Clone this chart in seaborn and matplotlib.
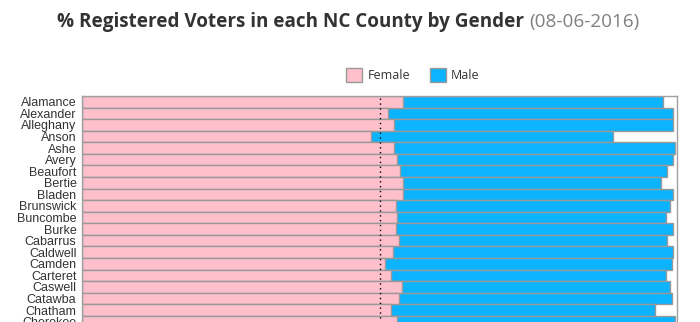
import matplotlib
matplotlib.use("Agg")
import matplotlib.pyplot as plt
import seaborn as sns
import pandas as pd
from matplotlib.patches import Patch

counties = ["Alamance", "Alexander", "Alleghany", "Anson", "Ashe", "Avery", "Beaufort",
            "Bertie", "Bladen", "Brunswick", "Buncombe", "Burke", "Cabarrus", "Caldwell",
            "Camden", "Carteret", "Caswell", "Catawba", "Chatham", "Cherokee"]
female_pct = [54.0, 51.5, 52.4, 48.5, 52.5, 52.9, 53.5, 54.0, 53.9, 52.7,
              53.0, 52.7, 53.2, 52.2, 51.0, 52.0, 53.7, 53.2, 52.0, 52.9]
male_pct = [43.7, 47.8, 46.9, 40.7, 47.1, 46.4, 44.8, 43.3, 45.5, 46.1,
            45.1, 46.7, 45.1, 47.2, 48.1, 46.1, 45.1, 45.9, 44.3, 46.7]

df = pd.DataFrame({"county": counties, "female": female_pct, "male": male_pct})
df["total"] = df["female"] + df["male"]

sns.set_style("white")
W, H = 700, 322
fig = plt.figure(figsize=(7, 3.22), dpi=100)

row_h = 11.57
left_px, right_px, top_px = 82, 677, 96
n = len(counties)
ax_h = n * row_h
ax = fig.add_axes([left_px / W, (H - top_px - ax_h) / H, (right_px - left_px) / W, ax_h / H])

male_c = "#0cb4ff"
female_c = "#ffc0cb"
edge = "#999999"

sns.barplot(data=df, y="county", x="total", orient="h", color=male_c, width=1.0,
            edgecolor=edge, linewidth=1.0, saturation=1, ax=ax)
sns.barplot(data=df, y="county", x="female", orient="h", color=female_c, width=1.0,
            edgecolor=edge, linewidth=1.0, saturation=1, ax=ax)

ax.axvline(50, color="black", linestyle=(0, (1, 2.5)), linewidth=1.0, zorder=5)
ax.set_xlim(0, 100)
ax.set_ylim(n - 0.5, -0.5)
ax.set_xlabel("")
ax.set_ylabel("")
ax.set_xticks([])
ax.tick_params(axis="y", length=0, pad=4)
for lab in ax.get_yticklabels():
    lab.set_fontfamily("Liberation Sans")
    lab.set_fontsize(9.0)
    lab.set_color("#333333")
for s in ax.spines.values():
    s.set_color("#a0a0a0")
    s.set_linewidth(1.0)

# Title in two styles
t1 = fig.text(57 / W, 1 - 22 / H, "% Registered Voters in each NC County by Gender",
              fontfamily="Open Sans", fontweight="bold", fontsize=13.6, color="#333333",
              ha="left", va="center")
fig.canvas.draw()
bb = t1.get_window_extent()
fig.text((bb.x1 + 5) / W, 1 - 22 / H, "(08-06-2016)", fontfamily="Open Sans",
         fontsize=13.6, color="#808080", ha="left", va="center")

handles = [Patch(facecolor=female_c, edgecolor=edge, label="Female"),
           Patch(facecolor=male_c, edgecolor=edge, label="Male")]
leg = fig.legend(handles=handles, loc="center", bbox_to_anchor=(413 / W, 1 - 75 / H),
                 ncol=2, frameon=False, prop={"family": "Open Sans", "size": 9},
                 handlelength=1.25, handleheight=1.35, handletextpad=0.45, columnspacing=1.6)
for t in leg.get_texts():
    t.set_color("#333333")

fig.savefig("out.png", dpi=100)
